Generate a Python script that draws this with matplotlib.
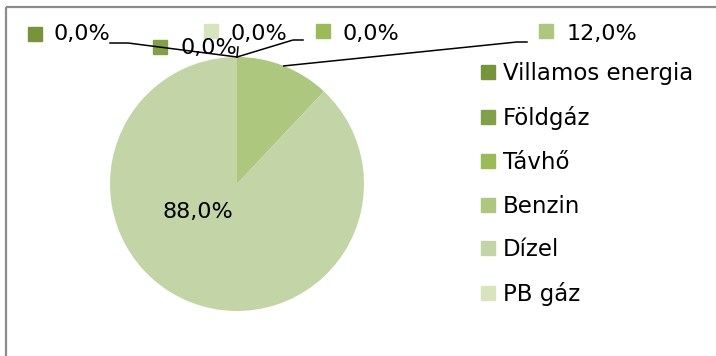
import matplotlib
matplotlib.use("Agg")
import matplotlib.pyplot as plt
from matplotlib.lines import Line2D
from matplotlib.patches import Rectangle
import numpy as np

categories = ["Villamos energia", "Földgáz", "Távhő", "Benzin", "Dízel", "PB gáz"]
shares = [0.0, 0.0, 0.0, 12.0, 88.0, 0.0]
colors = ["#77933C", "#82A04A", "#9BBB59", "#ADC77F", "#C3D5A6", "#D7E4BD"]
value_labels = ["0,0%", "0,0%", "0,0%", "12,0%", "88,0%", "0,0%"]

W, H = 716, 356
plt.rcParams["font.family"] = ["DejaVu Sans"]
FS = 16.5

fig = plt.figure(figsize=(W / 100, H / 100), dpi=100)


def px(x, y):
    """Pixel position (origin top-left) to figure fraction."""
    return x / W, 1 - y / H


# outer chart frame
fig.patches.append(Rectangle(px(6, 7), 800 / W, -400 / H, transform=fig.transFigure,
                             fill=False, edgecolor="#8C8C8C", linewidth=1.6))

# pie
cx, cy, r = 237, 184, 127
ax = fig.add_axes([(cx - r) / W, 1 - (cy + r) / H, 2 * r / W, 2 * r / H])
wedges, _ = ax.pie(shares, colors=colors, startangle=90, counterclock=False, radius=1.0,
                   wedgeprops=dict(linewidth=0))
ax.set_xlim(-1, 1)
ax.set_ylim(-1, 1)
ax.set_aspect("equal")
ax.axis("off")


def anchor(w):
    t = np.deg2rad((w.theta1 + w.theta2) / 2)
    disp = ax.transData.transform((np.cos(t), np.sin(t)))
    return fig.transFigure.inverted().transform(disp)


# data label layout: marker centre, text left edge (pixels)
label_pos = {
    0: ((35, 34), (53, 34)),
    1: ((160, 47), (180, 48)),
    5: ((211, 31), (230, 34)),
    2: ((323, 31), (342, 34)),
    3: ((546, 31), (567, 34)),
}
for i, ((mx, my), (tx, ty)) in label_pos.items():
    fig.add_artist(Line2D([mx / W], [1 - my / H], marker="s", markersize=10,
                          color=colors[i], linestyle="none", transform=fig.transFigure))
    fig.text(tx / W, 1 - ty / H, value_labels[i], fontsize=FS - 0.5, va="center", ha="left",
             color="#000000")

# label inside the large wedge
fig.text(198 / W, 1 - 212 / H, value_labels[4], fontsize=FS - 0.5, va="center", ha="center")

# leader lines: elbow points near labels, end at the wedge edge
leaders = {
    0: [(110, 43), (128, 43)],
    5: [(238, 47)],
    2: [(303, 40), (293, 40)],
    3: [(527, 42), (517, 42)],
}
for i, pts in leaders.items():
    ex, ey = anchor(wedges[i])
    xs = [p[0] / W for p in pts] + [ex]
    ys = [1 - p[1] / H for p in pts] + [ey]
    fig.add_artist(Line2D(xs, ys, color="#000000", linewidth=1.1, transform=fig.transFigure))

# legend
handles = [Line2D([], [], marker="s", markersize=10, color=c, linestyle="none") for c in colors]
fig.legend(handles, categories, loc="upper left", bbox_to_anchor=px(481, 62),
           frameon=False, fontsize=FS, handlelength=0.6, handletextpad=0.35,
           labelspacing=0.91, borderpad=0, borderaxespad=0)

fig.savefig("out.png", dpi=100)
